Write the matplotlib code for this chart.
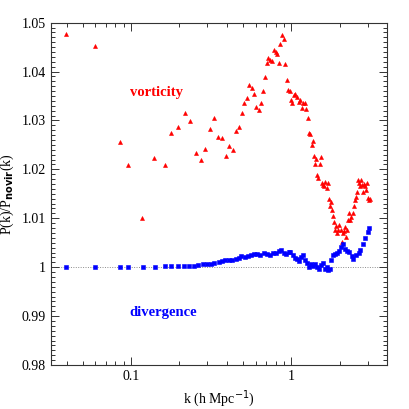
import numpy as np
import matplotlib
matplotlib.use("Agg")
import matplotlib.pyplot as plt
from matplotlib.ticker import FixedLocator, MultipleLocator, NullFormatter

# vorticity ratio (red triangles)
k_vort = [0.0392, 0.0597, 0.0855, 0.0958, 0.118, 0.140, 0.163, 0.177, 0.198, 0.216,
          0.235, 0.255, 0.275, 0.291, 0.313, 0.332, 0.351, 0.370, 0.394, 0.409,
          0.431, 0.450, 0.470, 0.491, 0.510, 0.530, 0.548, 0.566, 0.589, 0.603,
          0.629, 0.644, 0.663, 0.686, 0.702, 0.719, 0.740, 0.762, 0.780, 0.799,
          0.818, 0.834, 0.854, 0.879, 0.900, 0.917, 0.940, 0.958, 0.976, 0.995,
          1.014, 1.034, 1.059, 1.085, 1.111, 1.137, 1.160, 1.188, 1.216, 1.240,
          1.264, 1.282, 1.313, 1.345, 1.364, 1.384, 1.411, 1.431, 1.452, 1.473,
          1.501, 1.529, 1.552, 1.574, 1.604, 1.635, 1.659, 1.691, 1.715, 1.740,
          1.765, 1.790, 1.825, 1.851, 1.878, 1.906, 1.933, 1.970, 1.999, 2.038,
          2.067, 2.107, 2.138, 2.179, 2.210, 2.241, 2.274, 2.306, 2.340, 2.374,
          2.419, 2.454, 2.490, 2.526, 2.563, 2.600, 2.639, 2.677, 2.716, 2.756,
          2.796, 2.837, 2.892, 2.935, 2.978, 3.021, 3.066, 3.110]
p_vort = [1.0477, 1.0452, 1.0255, 1.0208, 1.0100, 1.0224, 1.0208, 1.0274, 1.0287, 1.0315,
          1.0298, 1.0233, 1.0220, 1.0242, 1.0282, 1.0306, 1.0267, 1.0265, 1.0227, 1.0248,
          1.0240, 1.0278, 1.0287, 1.0316, 1.0335, 1.0345, 1.0373, 1.0366, 1.0355, 1.0327,
          1.0321, 1.0335, 1.0361, 1.0388, 1.0417, 1.0427, 1.0424, 1.0422, 1.0444, 1.0441,
          1.0435, 1.0417, 1.0456, 1.0475, 1.0466, 1.0415, 1.0383, 1.0362, 1.0361, 1.0342,
          1.0336, 1.0352, 1.0354, 1.0349, 1.0338, 1.0342, 1.0325, 1.0335, 1.0335, 1.0323,
          1.0306, 1.0274, 1.0272, 1.0250, 1.0257, 1.0227, 1.0210, 1.0221, 1.0188, 1.0182,
          1.0210, 1.0226, 1.0173, 1.0168, 1.0165, 1.0175, 1.0161, 1.0173, 1.0139, 1.0125,
          1.0134, 1.0117, 1.0105, 1.0093, 1.0076, 1.0084, 1.0069, 1.0076, 1.0086, 1.0076,
          1.0051, 1.0069, 1.0073, 1.0083, 1.0061, 1.0077, 1.0096, 1.0111, 1.0096, 1.0103,
          1.0110, 1.0125, 1.0137, 1.0144, 1.0154, 1.0178, 1.0173, 1.0165, 1.0178, 1.0168,
          1.0154, 1.0171, 1.0165, 1.0158, 1.0173, 1.0142, 1.0137, 1.0139]

# divergence ratio (blue squares)
k_div = [0.0392, 0.0597, 0.0854, 0.0954, 0.1188, 0.1404, 0.163, 0.1766, 0.198, 0.213,
         0.2297, 0.2466, 0.2637, 0.282, 0.300, 0.316, 0.332, 0.353, 0.370, 0.388,
         0.4074, 0.4295, 0.450, 0.470, 0.489, 0.513, 0.535, 0.558, 0.586, 0.614,
         0.641, 0.676, 0.709, 0.740, 0.769, 0.803, 0.838, 0.867, 0.900, 0.931,
         0.962, 0.986, 1.024, 1.059, 1.090, 1.121, 1.154, 1.188, 1.222, 1.258,
         1.288, 1.326, 1.364, 1.404, 1.445, 1.486, 1.522, 1.567, 1.612, 1.660,
         1.699, 1.741, 1.782, 1.817, 1.870, 1.924, 1.981, 2.038, 2.097, 2.158,
         2.221, 2.307, 2.386, 2.443, 2.539, 2.636, 2.689, 2.792, 2.902, 3.000,
         3.073]
p_div = [1.0000, 1.0000, 1.0000, 1.0000, 1.0000, 1.00007, 1.00014, 1.00014, 1.0002, 1.0002,
         1.00027, 1.00034, 1.0004, 1.00055, 1.0006, 1.0007, 1.0008, 1.0011, 1.0012, 1.0014,
         1.0014, 1.0015, 1.0017, 1.0019, 1.0023, 1.0020, 1.0022, 1.0024, 1.0026, 1.0027,
         1.0025, 1.0028, 1.0027, 1.0025, 1.0028, 1.0030, 1.0033, 1.0035, 1.0029, 1.0026,
         1.0032, 1.0031, 1.0025, 1.0019, 1.0016, 1.0012, 1.0021, 1.0025, 1.0015, 1.0008,
         1.0001, 1.0007, 1.0003, 1.0007, 1.0001, 0.9997, 1.0004, 1.0009, 0.9997, 1.0001,
         0.9995, 0.9997, 1.0014, 1.0024, 1.0026, 1.0028, 1.0033, 1.0042, 1.0047, 1.0038,
         1.0033, 1.0031, 1.0023, 1.0016, 1.0025, 1.0029, 1.0035, 1.0047, 1.0059, 1.0072,
         1.0081]

fig = plt.figure(figsize=(4.09, 4.09), dpi=100)
ax = fig.add_axes([0.124, 0.1076, 0.822, 0.837])

ax.axhline(1.0, color="0.55", lw=0.7, ls=(0, (1, 1.5)), zorder=1)
ax.plot(k_vort, p_vort, ls="none", marker="^", ms=2.9, color="red", mec="red", mew=0.4, zorder=3)
ax.plot(k_div, p_div, ls="none", marker="s", ms=2.6, color="blue", mec="blue", mew=0.4, zorder=3)

ax.set_xscale("log")
ax.set_xlim(0.0316, 3.95)
ax.set_ylim(0.98, 1.05)

ax.xaxis.set_major_locator(FixedLocator([0.1, 1]))
ax.xaxis.set_minor_locator(FixedLocator([0.04, 0.05, 0.06, 0.07, 0.08, 0.09,
                                         0.2, 0.3, 0.4, 0.5, 0.6, 0.7, 0.8, 0.9, 2, 3]))
ax.xaxis.set_minor_formatter(NullFormatter())
ax.set_xticklabels(["0.1", "1"])
ax.yaxis.set_minor_locator(MultipleLocator(0.001))
ax.set_yticks([0.98, 0.99, 1.0, 1.01, 1.02, 1.03, 1.04, 1.05])
ax.set_yticklabels(["0.98", "0.99", "1", "1.01", "1.02", "1.03", "1.04", "1.05"])

ax.tick_params(which="both", direction="in", top=True, right=True, width=0.7, colors="0.2")
ax.tick_params(which="major", length=6)
ax.tick_params(which="minor", length=3)
for lab in ax.get_xticklabels() + ax.get_yticklabels():
    lab.set_family("Liberation Serif")
    lab.set_fontsize(10)
    lab.set_color("black")
for s in ax.spines.values():
    s.set_linewidth(0.8)
    s.set_color("0.2")

ax.set_xlabel("k (h Mpc$^{-1}$)", family="Liberation Serif", fontsize=10, labelpad=4)
ax.set_ylabel("P(k)/P$_{\\mathbf{novir}}$(k)", family="Liberation Serif", fontsize=10, labelpad=4)

ax.text(0.1445, 1.0358, "vorticity", color="red", family="Liberation Serif",
        fontweight="bold", fontsize=10.5, ha="center", va="center")
ax.text(0.159, 0.9907, "divergence", color="blue", family="Liberation Serif",
        fontweight="bold", fontsize=10.5, ha="center", va="center")

fig.savefig("out.png", dpi=100)
